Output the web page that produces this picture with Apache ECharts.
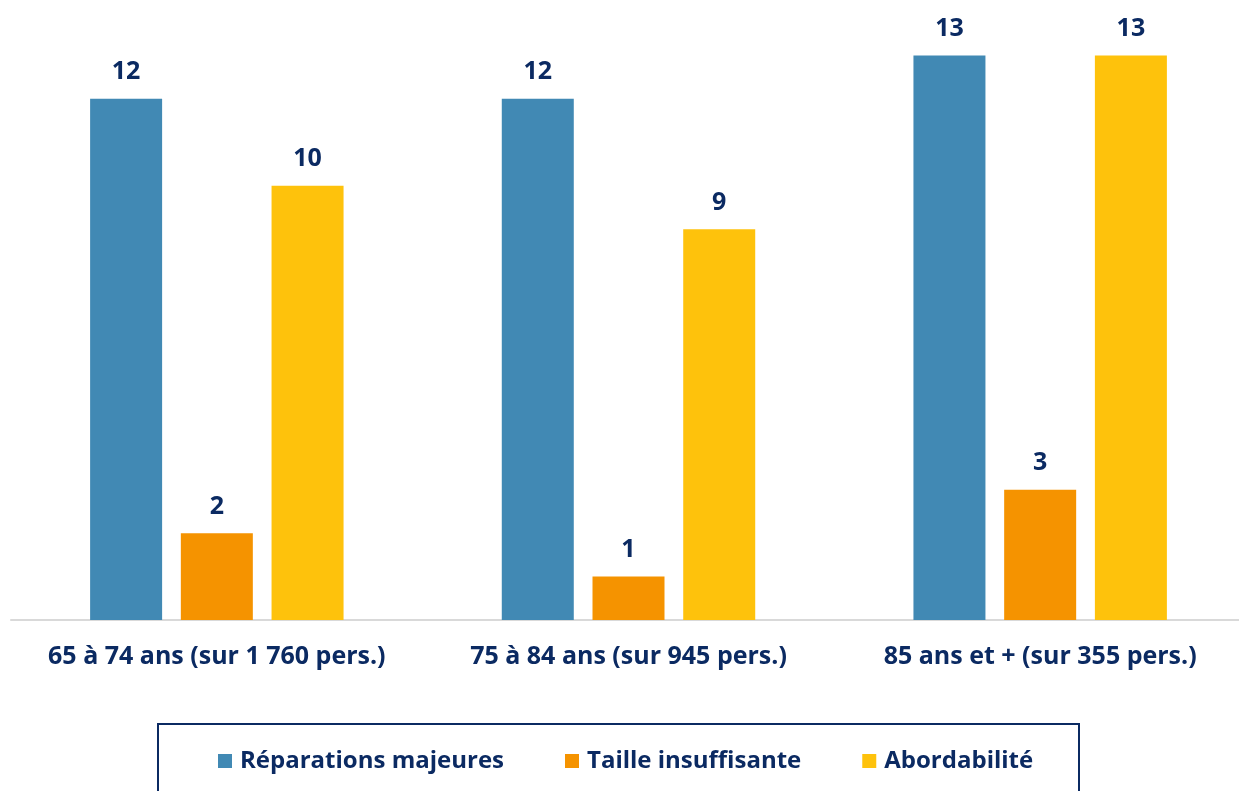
<!DOCTYPE html>
<html>
<head>
<meta charset="utf-8">
<script src="https://cdn.jsdelivr.net/npm/echarts@6/dist/echarts.min.js"></script>
<style>
  html, body { margin: 0; padding: 0; background: #ffffff; }
  #chart { width: 1239px; height: 791px; }
</style>
</head>
<body>
<div id="chart"></div>
<script>
const CATEGORIES = [
  "65 à 74 ans (sur 1 760 pers.)",
  "75 à 84 ans (sur 945 pers.)",
  "85 ans et + (sur 355 pers.)"
];
const SERIES_NAMES = ["Réparations majeures", "Taille insuffisante", "Abordabilité"];
const REPARATIONS = [12, 12, 13];
const TAILLE = [2, 1, 3];
const ABORDABILITE = [10, 9, 13];

const navy = "#0b2a62";
const fontFamily = "'Open Sans', Lato, sans-serif";
const colors = ["#4189b4", "#f59300", "#fec20c"];

function barSeries(name, values, color) {
  return {
    name,
    type: "bar",
    data: values,
    barWidth: 72,
    barGap: "26%",
    itemStyle: { color },
    label: {
      show: true,
      position: "top",
      distance: 14,
      color: navy,
      fontFamily,
      fontWeight: "bold",
      fontSize: 25
    }
  };
}

const chart = echarts.init(document.getElementById("chart"));

chart.setOption({
  animation: false,
  backgroundColor: "#ffffff",
  grid: {
    left: 11,
    top: 12,
    width: 1235,
    height: 608,
    containLabel: false,
    outerBoundsMode: "none"
  },
  xAxis: {
    type: "category",
    data: CATEGORIES,
    axisLine: { show: true, lineStyle: { color: "#d9d9d9", width: 2 } },
    axisTick: { show: false },
    axisLabel: {
      interval: 0,
      color: navy,
      fontFamily,
      fontWeight: "bold",
      fontSize: 25,
      margin: 24
    }
  },
  yAxis: {
    type: "value",
    min: 0,
    max: 14,
    show: false,
    splitLine: { show: false }
  },
  legend: {
    data: SERIES_NAMES,
    left: 213,
    top: 744,
    icon: "rect",
    itemWidth: 14,
    itemHeight: 14,
    itemGap: 61,
    textStyle: {
      color: navy,
      fontFamily,
      fontWeight: "bold",
      fontSize: 24,
      padding: [0, 0, 0, 3]
    }
  },
  graphic: [
    {
      type: "rect",
      silent: true,
      shape: { x: 158, y: 724, width: 921, height: 100 },
      style: { fill: "none", stroke: "#0b2a62", lineWidth: 2 }
    }
  ],
  series: [
    barSeries(SERIES_NAMES[0], REPARATIONS, colors[0]),
    barSeries(SERIES_NAMES[1], TAILLE, colors[1]),
    barSeries(SERIES_NAMES[2], ABORDABILITE, colors[2])
  ]
});
</script>
</body>
</html>
